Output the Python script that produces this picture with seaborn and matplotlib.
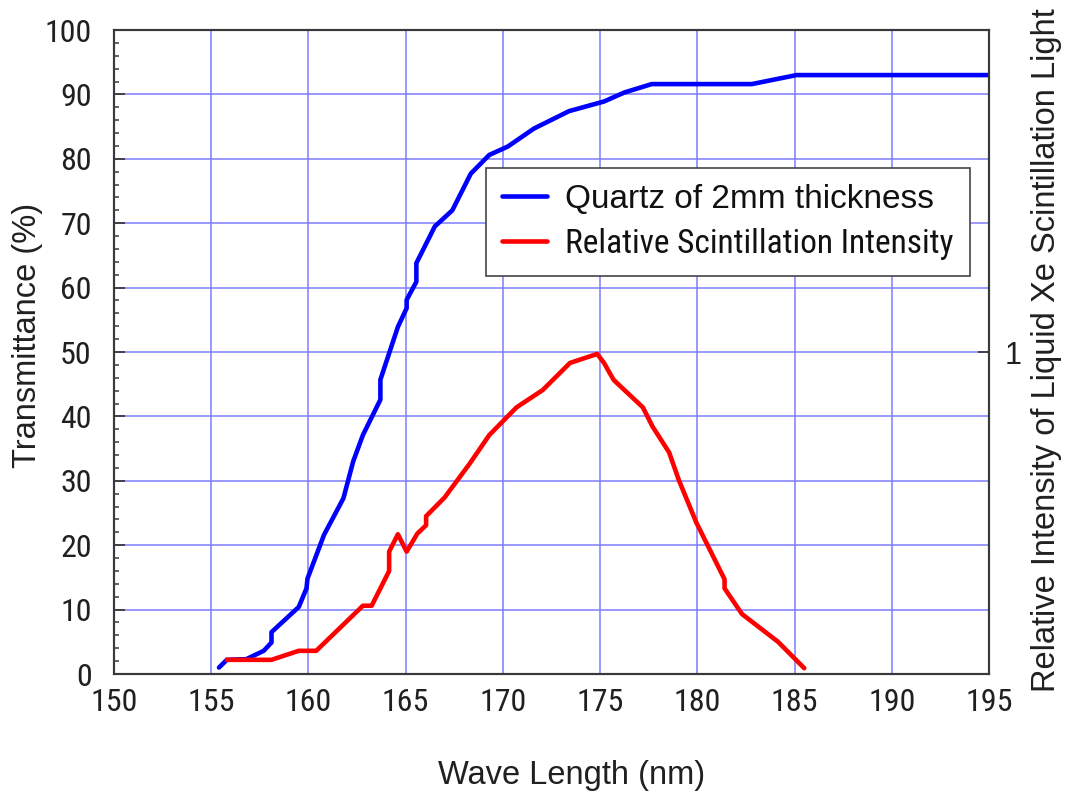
import numpy as np
import pandas as pd
import matplotlib
matplotlib.use("Agg")
import matplotlib.pyplot as plt
import seaborn as sns
from matplotlib.ticker import MultipleLocator, FixedLocator, FixedFormatter
from matplotlib import font_manager as fm
from matplotlib.textpath import TextPath
from matplotlib.lines import Line2D

# ---------------- data ----------------
quartz_wl = [155.4, 155.8, 156.8, 157.7, 158.1, 158.1, 159.5, 159.9, 159.95, 160.8,
             161.8, 162.3, 162.8, 163.7, 163.7, 164.6, 165.05, 165.05, 165.55, 165.55,
             166.5, 167.4, 168.35, 169.3, 170.25, 171.6, 173.4, 175.2, 176.25, 177.65,
             182.8, 185.1, 195.0]
quartz_tr = [1.0, 2.2, 2.3, 3.6, 4.9, 6.5, 10.4, 13.3, 14.8, 21.6,
             27.3, 33.0, 37.1, 42.6, 45.7, 53.9, 56.8, 58.1, 60.9, 63.8,
             69.5, 72.0, 77.7, 80.6, 81.9, 84.7, 87.4, 88.9, 90.3, 91.6,
             91.6, 93.0, 93.0]

scint_wl = [155.8, 158.1, 159.5, 160.4, 162.8, 163.25, 164.15, 164.15, 164.6, 165.05,
            165.6, 166.05, 166.05, 167.0, 168.3, 169.3, 170.7, 172.05, 173.45, 174.85,
            175.2, 175.7, 177.2, 177.7, 178.55, 179.05, 179.95, 181.4, 181.4, 182.3,
            184.15, 185.5]
scint_rel = [0.044, 0.044, 0.072, 0.072, 0.212, 0.212, 0.320, 0.380, 0.434, 0.380,
             0.436, 0.462, 0.490, 0.548, 0.654, 0.742, 0.828, 0.882, 0.966, 0.994,
             0.966, 0.913, 0.828, 0.768, 0.688, 0.602, 0.470, 0.294, 0.266, 0.186,
             0.100, 0.018]

x_ticks = [150, 155, 160, 165, 170, 175, 180, 185, 190, 195]
y_ticks = [0, 10, 20, 30, 40, 50, 60, 70, 80, 90, 100]
right_ticks = [1]
right_tick_labels = ["1"]

label_quartz = "Quartz of 2mm thickness"
label_scint = "Relative Scintillation Intensity"
xlabel = "Wave Length (nm)"
ylabel = "Transmittance (%)"
rlabel = "Relative Intensity of Liquid Xe Scintillation Light"

# ---------------- style ----------------
sns.set_theme(style="white")
names = {f.name for f in fm.fontManager.ttflist}
main_font = "Liberation Sans" if "Liberation Sans" in names else "DejaVu Sans"
plt.rcParams["font.family"] = [main_font, "DejaVu Sans"]

# look for the narrowest available sans face for the condensed texts
files = [f.fname for f in fm.fontManager.ttflist]
narrow_pref = ["LiberationSansNarrow-Regular.ttf", "NotoSans-ExtraCondensed.ttf",
               "NotoSans-Condensed.ttf", "RobotoCondensed-Regular.ttf",
               "OpenSans_Condensed-Regular.ttf", "OpenSans-CondensedRegular.ttf",
               "DejaVuSansCondensed.ttf"]
narrow_file = None
for pref in narrow_pref:
    hits = [p for p in files if p.split("/")[-1] == pref]
    if hits:
        narrow_file = hits[0]
        break


def narrow_fp(size):
    if narrow_file is not None:
        return fm.FontProperties(fname=narrow_file, size=size)
    return fm.FontProperties(family=main_font, size=size)


def fit_size(text, target_px, max_pt):
    """largest size (<= max_pt) whose rendered width is about target_px"""
    w_pt = TextPath((0, 0), text, prop=narrow_fp(10)).get_extents().width
    w_px10 = w_pt * 100 / 72
    return min(max_pt, 10 * target_px / w_px10)


tick_pt = fit_size("100", 46, 23)
scint_pt = fit_size(label_scint, 386, 24)

spine_col = "#3a3a3a"
grid_col = "#7c7cff"
txt_col = "#202020"

fig = plt.figure(figsize=(10.66, 7.95), dpi=100)
fig.patch.set_facecolor("white")
ax = fig.add_axes([114 / 1066, 1 - 674 / 795, (989 - 114) / 1066, (674 - 30) / 795])
ax2 = ax.twinx()

df_q = pd.DataFrame({"wl": quartz_wl, "val": quartz_tr})
df_s = pd.DataFrame({"wl": scint_wl, "val": scint_rel})

sns.lineplot(data=df_q, x="wl", y="val", ax=ax, color="#0000ff", linewidth=3.3,
             estimator=None, sort=False, legend=False, zorder=3)
sns.lineplot(data=df_s, x="wl", y="val", ax=ax2, color="#ff0000", linewidth=3.3,
             estimator=None, sort=False, legend=False, zorder=3)

ax.set_xlim(150, 195)
ax.set_ylim(0, 100)
ax2.set_ylim(0, 2)

# grid & ticks
ax.set_axisbelow(True)
ax.xaxis.set_major_locator(FixedLocator(x_ticks))
ax.yaxis.set_major_locator(FixedLocator(y_ticks))
ax.xaxis.set_minor_locator(MultipleLocator(1))
ax.yaxis.set_minor_locator(MultipleLocator(2))
ax.grid(True, which="major", color=grid_col, lw=1.1)

ax.tick_params(axis="x", which="major", direction="in", length=12, width=1.3,
               color=spine_col, pad=10, labelcolor=txt_col)
ax.tick_params(axis="x", which="minor", direction="in", length=5, width=1.1, color=spine_col)
ax.tick_params(axis="y", which="major", direction="in", length=8, width=1.3,
               color=spine_col, pad=16, labelcolor=txt_col)
ax.tick_params(axis="y", which="minor", direction="in", length=3.8, width=1.1, color=spine_col)
for lab in ax.get_xticklabels() + ax.get_yticklabels():
    lab.set_fontproperties(narrow_fp(tick_pt))

ax2.yaxis.set_major_locator(FixedLocator(right_ticks))
ax2.yaxis.set_major_formatter(FixedFormatter(right_tick_labels))
ax2.tick_params(axis="y", which="major", direction="in", length=8, width=1.3,
                color=spine_col, pad=11, labelsize=22, labelcolor=txt_col)
ax2.tick_params(axis="y", which="minor", length=0)

for a in (ax, ax2):
    for s in a.spines.values():
        s.set_color(spine_col)
        s.set_linewidth(1.5)

# labels
ax.set_xlabel(xlabel, fontsize=23.5, color=txt_col)
ax.xaxis.set_label_coords(0.523, -0.134)
ax.set_ylabel(ylabel, fontsize=23.5, color=txt_col)
ax.yaxis.set_label_coords(-0.081, 0.526)
ax2.set_ylabel(rlabel, fontsize=23.5, color=txt_col)
ax2.yaxis.set_label_coords(1.048, 0.503)

# legend
handles = [Line2D([], [], color="#0000ff", linewidth=3.3),
           Line2D([], [], color="#ff0000", linewidth=3.3)]
leg = ax2.legend(handles, [label_quartz, label_scint], loc="upper right",
                 bbox_to_anchor=(0.978, 0.786), borderaxespad=0, fontsize=24,
                 frameon=True, fancybox=False, shadow=False, framealpha=1,
                 edgecolor="#444444", handlelength=1.35, handletextpad=0.54,
                 borderpad=0.48, labelspacing=0.4)
leg.get_frame().set_linewidth(1.2)
for t in leg.get_texts():
    t.set_color("#111111")
leg.get_texts()[1].set_fontproperties(narrow_fp(scint_pt))
leg.set_zorder(10)

fig.savefig("out.png", dpi=100, facecolor="white")
